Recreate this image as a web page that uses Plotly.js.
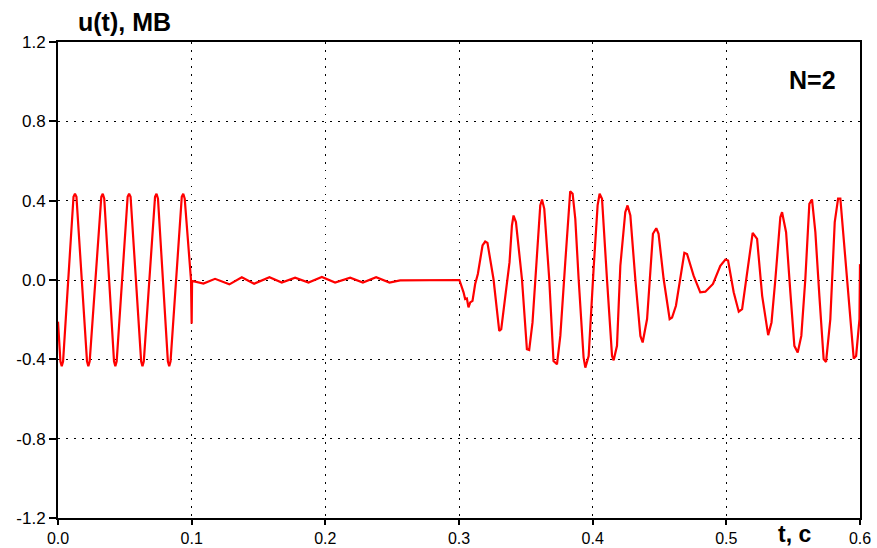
<!DOCTYPE html>
<html>
<head>
<meta charset="utf-8">
<script src="https://cdn.plot.ly/plotly-3.0.1.min.js"></script>
<style>html,body{margin:0;padding:0;background:#fff;}#chart{width:877px;height:548px;}</style>
</head>
<body>
<div id="chart"></div>
<script>
// Time samples, s
const tValues = [
  0.0000, 0.0018, 0.0028, 0.0038, 0.0116, 0.0127, 0.0138,
  0.0217, 0.0227, 0.0237,
  0.0324, 0.0335, 0.0346, 0.0419, 0.0429, 0.0439,
  0.0521, 0.0532, 0.0543, 0.0622, 0.0632, 0.0642,
  0.0726, 0.0737, 0.0748, 0.0822, 0.0832, 0.0842,
  0.0926, 0.0937, 0.0948, 0.0995, 0.1000, 0.1003,
  0.1088, 0.1175, 0.1282, 0.1375, 0.1467, 0.1582, 0.1674, 0.1774, 0.1874,
  0.1974, 0.2073, 0.2186, 0.2281, 0.2380, 0.2480, 0.2560, 0.3003,
  0.3022, 0.3034, 0.3046, 0.3059, 0.3071, 0.3084, 0.3101, 0.3121, 0.3141,
  0.3154, 0.3159, 0.3176, 0.3196, 0.3213, 0.3258, 0.3301, 0.3316, 0.3346,
  0.3378, 0.3396, 0.3408, 0.3426, 0.3471, 0.3508, 0.3525, 0.3550, 0.3583,
  0.3608, 0.3621, 0.3638, 0.3675, 0.3707, 0.3733, 0.3758, 0.3795, 0.3832,
  0.3850, 0.3870, 0.3895, 0.3932, 0.3945, 0.3970, 0.4007, 0.4037, 0.4052,
  0.4070, 0.4107, 0.4145, 0.4157, 0.4182, 0.4207, 0.4244, 0.4261, 0.4282,
  0.4319, 0.4357, 0.4374, 0.4407, 0.4451, 0.4476, 0.4493, 0.4531, 0.4576,
  0.4594, 0.4623, 0.4656, 0.4686, 0.4706, 0.4755, 0.4805, 0.4843, 0.4900,
  0.4955, 0.4993, 0.5013, 0.5055, 0.5093, 0.5118, 0.5155, 0.5197, 0.5230,
  0.5268, 0.5313, 0.5338, 0.5367, 0.5404, 0.5417, 0.5447, 0.5479, 0.5509,
  0.5534, 0.5561, 0.5591, 0.5621, 0.5641, 0.5666, 0.5696, 0.5728, 0.5746,
  0.5778, 0.5811, 0.5836, 0.5853, 0.5891, 0.5928, 0.5953, 0.5971, 0.5996,
  0.6000
];
// Voltage, MV
const uValues = [
  -0.21, -0.41, -0.435, -0.41, 0.42, 0.435, 0.42,
  -0.41, -0.435, -0.41,
  0.42, 0.435, 0.41, -0.41, -0.435, -0.41,
  0.42, 0.435, 0.42, -0.41, -0.435, -0.41,
  0.42, 0.435, 0.41, -0.41, -0.435, -0.41,
  0.42, 0.435, 0.41, 0.0, -0.22, -0.005,
  -0.018, 0.006, -0.022, 0.014, -0.019, 0.014, -0.013, 0.012, -0.013,
  0.015, -0.013, 0.012, -0.013, 0.014, -0.013, -0.002, 0.0,
  -0.037, -0.062, -0.096, -0.093, -0.138, -0.113, -0.105, -0.02, 0.03,
  0.081, 0.123, 0.174, 0.194, 0.187, 0.005, -0.257, -0.248, -0.096,
  0.09, 0.275, 0.325, 0.292, 0.005, -0.349, -0.353, -0.214, 0.123,
  0.376, 0.406, 0.359, 0.005, -0.408, -0.425, -0.282, 0.09, 0.447,
  0.435, 0.308, 0.005, -0.39, -0.442, -0.383, 0.056, 0.376, 0.435,
  0.41, 0.005, -0.383, -0.405, -0.332, 0.072, 0.342, 0.376, 0.325,
  0.005, -0.282, -0.315, -0.197, 0.233, 0.261, 0.233, 0.005, -0.197,
  -0.189, -0.13, 0.005, 0.137, 0.131, 0.022, -0.062, -0.059, -0.02,
  0.072, 0.103, 0.098, -0.062, -0.16, -0.147, 0.022, 0.238, 0.207,
  -0.08, -0.278, -0.214, 0.005, 0.317, 0.342, 0.241, -0.062, -0.332,
  -0.366, -0.282, 0.005, 0.384, 0.406, 0.241, -0.08, -0.399, -0.413,
  -0.197, 0.292, 0.41, 0.41, 0.09, -0.231, -0.396, -0.383, -0.197,
  0.08
];
const xTickVals = [0.0, 0.1, 0.2, 0.3, 0.4, 0.5, 0.6];
const xTickText = ["0.0", "0.1", "0.2", "0.3", "0.4", "0.5", "0.6"];
const yTickVals = [-1.2, -0.8, -0.4, 0.0, 0.4, 0.8, 1.2];
const yTickText = ["-1.2", "-0.8", "-0.4", "0.0", "0.4", "0.8", "1.2"];

const font = "Liberation Sans, Arial, sans-serif";
const trace = {
  x: tValues, y: uValues, type: "scatter", mode: "lines",
  line: {color: "#ff0000", width: 2.2}, hoverinfo: "skip"
};
const axisCommon = {
  showline: true, linecolor: "#000", linewidth: 2, mirror: true,
  ticks: "outside", ticklen: 7, tickwidth: 2, tickcolor: "#000",
  showgrid: true, gridcolor: "#000", gridwidth: 1, griddash: "1.5px,6.5px",
  zeroline: false, tickfont: {family: font, size: 17, color: "#000"},
  fixedrange: true
};
const layout = {
  width: 877, height: 548,
  margin: {l: 58, r: 17, t: 42, b: 30},
  paper_bgcolor: "#fff", plot_bgcolor: "#fff",
  showlegend: false,
  xaxis: Object.assign({}, axisCommon, {range: [0, 0.6], tickvals: xTickVals, ticktext: xTickText, ticklen: 5, tickfont: {family: font, size: 16, color: "#000"}}),
  yaxis: Object.assign({}, axisCommon, {range: [-1.2, 1.2], tickvals: yTickVals, ticktext: yTickText}),
  annotations: [
    {text: "<b>u(t), MB</b>", xref: "paper", yref: "paper", x: 0.022, y: 1, xanchor: "left", yanchor: "middle", yshift: 20, showarrow: false, font: {family: font, size: 25, color: "#000"}},
    {text: "<b>t, c</b>", xref: "paper", yref: "paper", x: 0.918, y: 0, xanchor: "center", yanchor: "middle", yshift: -16, showarrow: false, font: {family: font, size: 23, color: "#000"}},
    {text: "<b>N=2</b>", xref: "paper", yref: "paper", x: 0.941, y: 0.92, xanchor: "center", yanchor: "middle", showarrow: false, font: {family: font, size: 25, color: "#000"}}
  ]
};
Plotly.newPlot("chart", [trace], layout, {displayModeBar: false, staticPlot: true});
</script>
</body>
</html>
